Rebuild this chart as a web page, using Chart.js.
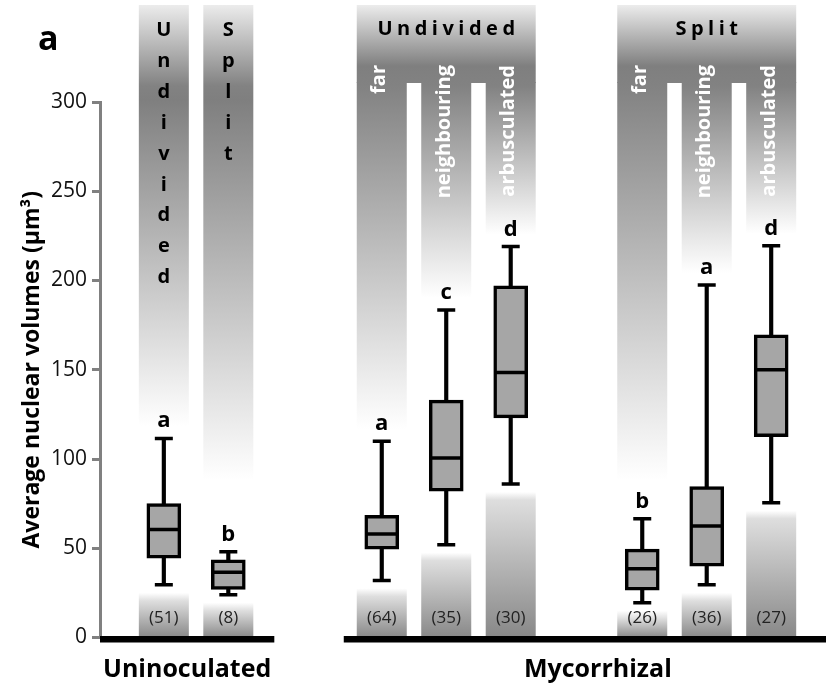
<!DOCTYPE html>
<html>
<head>
<meta charset="utf-8">
<script src="https://cdn.jsdelivr.net/npm/chart.js@4.4.1/dist/chart.umd.min.js"></script>
<style>
  html, body { margin: 0; padding: 0; background: #fff; }
  canvas { display: block; }
</style>
</head>
<body>
<canvas id="boxChart" width="826" height="691"></canvas>
<script>
(function () {
    "use strict";

    // values
    const categories = ['Undivided', 'Split', 'far', 'neighbouring', 'arbusculated', 'far', 'neighbouring', 'arbusculated'];
    const treatments = ['Uninoculated', 'Uninoculated', 'Mycorrhizal', 'Mycorrhizal', 'Mycorrhizal', 'Mycorrhizal', 'Mycorrhizal', 'Mycorrhizal'];
    const rootSystem = ['', '', 'Undivided', 'Undivided', 'Undivided', 'Split', 'Split', 'Split'];
    const whiskerLow = [29.5, 24, 32, 52, 86, 19.5, 29.5, 75.5];
    const quartile1 = [44.5, 27, 49.5, 82, 123, 26.5, 40, 112.5];
    const medians = [60.5, 36.5, 58, 100.5, 148.5, 38.5, 62.5, 150];
    const quartile3 = [75, 43.5, 68.5, 133, 197, 49.5, 84.5, 169.5];
    const whiskerHigh = [111.5, 48, 110, 183.5, 219, 66.5, 197.5, 219.5];
    const counts = [51, 8, 64, 35, 30, 26, 36, 27];
    const letters = ['a', 'b', 'a', 'c', 'd', 'b', 'a', 'd'];
    const yTitle = 'Average nuclear volumes (µm³)';

    // layout: box positions along the x axis, in box pitches
    const slots = [0, 1, 3.38, 4.38, 5.38, 7.42, 8.42, 9.42];

    const FONT = "'Open Sans', sans-serif";
    Chart.defaults.font.family = FONT;

    const COL_W = 50;
    const COL_TOP = 5;
    const GAP_TOP = 83;
    const LINE_W = 3.5;

    function yPx(chart, v) { return chart.scales.y.getPixelForValue(v); }
    function xPx(chart, i) { return chart.scales.x.getPixelForValue(slots[i]); }

    function topGradient(ctx, darkY, fadeEnd) {
        const g = ctx.createLinearGradient(0, COL_TOP, 0, fadeEnd);
        const span = fadeEnd - COL_TOP;
        g.addColorStop(0, '#ececec');
        g.addColorStop((darkY - COL_TOP) / span, '#7f7f7f');
        g.addColorStop(Math.min(0.99, (GAP_TOP + 3 - COL_TOP) / span), '#828282');
        g.addColorStop(1, '#ffffff');
        return g;
    }

    function spaced(ctx, text, cx, y, gap) {
        const widths = text.split('').map(function (ch) { return ctx.measureText(ch).width; });
        const total = widths.reduce(function (a, b) { return a + b; }, 0) + gap * (text.length - 1);
        let x = cx - total / 2;
        ctx.textAlign = 'left';
        text.split('').forEach(function (ch, k) {
            ctx.fillText(ch, x, y);
            x += widths[k] + gap;
        });
    }

    /* grey columns behind the boxes, plus all the annotation text */
    const backdrop = {
        id: 'backdrop',
        beforeDatasetsDraw(chart) {
            const ctx = chart.ctx;
            const y0 = yPx(chart, 0);
            ctx.save();
            categories.forEach(function (c, i) {
                const cx = xPx(chart, i);
                const left = cx - COL_W / 2;
                const myc = treatments[i] === 'Mycorrhizal';
                const fadeEnd = Math.min(yPx(chart, whiskerHigh[i]) - 12, 480);
                ctx.fillStyle = topGradient(ctx, myc ? 66 : 100, fadeEnd);
                if (myc) {
                    // header band shared by the three sub-columns
                    if (rootSystem[i] !== rootSystem[i - 1]) {
                        let last = i;
                        while (last + 1 < categories.length && rootSystem[last + 1] === rootSystem[i]) last++;
                        const right = xPx(chart, last) + COL_W / 2;
                        ctx.fillRect(left, COL_TOP, right - left, GAP_TOP - COL_TOP);
                    }
                    ctx.fillRect(left, GAP_TOP - 1, COL_W, fadeEnd - GAP_TOP + 1);
                } else {
                    ctx.fillRect(left, COL_TOP, COL_W, fadeEnd - COL_TOP);
                }
                const start = yPx(chart, whiskerLow[i]) + 8;
                const g2 = ctx.createLinearGradient(0, start, 0, y0);
                g2.addColorStop(0, '#ffffff');
                g2.addColorStop(Math.min(0.5, 8 / (y0 - start)), '#dedede');
                g2.addColorStop(1, '#888888');
                ctx.fillStyle = g2;
                ctx.fillRect(left, start, COL_W, y0 - start);
            });
            ctx.restore();
        },
        afterDatasetsDraw(chart) {
            const ctx = chart.ctx;
            const area = chart.chartArea;
            const y0 = yPx(chart, 0);
            ctx.save();

            categories.forEach(function (c, i) {
                const cx = xPx(chart, i);
                if (treatments[i] === 'Mycorrhizal') {
                    ctx.save();
                    ctx.translate(cx - 2, 65);
                    ctx.rotate(-Math.PI / 2);
                    ctx.font = 'bold 20px ' + FONT;
                    ctx.fillStyle = '#ffffff';
                    ctx.textAlign = 'right';
                    ctx.textBaseline = 'middle';
                    ctx.fillText(c, 0, 0);
                    ctx.restore();
                    if (rootSystem[i] !== rootSystem[i - 1]) {
                        const mid = (cx + xPx(chart, i + 2)) / 2;
                        ctx.font = 'bold 20px ' + FONT;
                        ctx.fillStyle = '#000';
                        ctx.textBaseline = 'alphabetic';
                        spaced(ctx, rootSystem[i], mid, 35, 4.5);
                    }
                } else {
                    ctx.font = 'bold 20px ' + FONT;
                    ctx.fillStyle = '#000';
                    ctx.textAlign = 'center';
                    ctx.textBaseline = 'alphabetic';
                    c.split('').forEach(function (ch, k) {
                        ctx.fillText(ch, cx, 36 + 30.9 * k);
                    });
                }

                // significance letters and n
                ctx.font = 'bold 22px ' + FONT;
                ctx.fillStyle = '#000';
                ctx.textAlign = 'center';
                ctx.textBaseline = 'alphabetic';
                ctx.fillText(letters[i], cx, yPx(chart, whiskerHigh[i]) - 11);

                ctx.font = '17px ' + FONT;
                ctx.fillStyle = '#222';
                ctx.textBaseline = 'middle';
                ctx.fillText('(' + counts[i] + ')', cx, y0 - 19);
            });

            // thick baselines under each treatment
            ctx.fillStyle = '#000';
            const seg1 = [area.left, xPx(chart, 1) + 46];
            const seg2 = [xPx(chart, 2) - 38, area.right];
            ctx.fillRect(seg1[0], y0 - 1.5, seg1[1] - seg1[0], 6.5);
            ctx.fillRect(seg2[0], y0 - 1.5, seg2[1] - seg2[0], 6.5);

            ctx.font = 'bold 25px ' + FONT;
            ctx.textAlign = 'center';
            ctx.textBaseline = 'alphabetic';
            ctx.fillText(treatments[0], (seg1[0] + seg1[1]) / 2, 677);
            ctx.fillText(treatments[2], (seg2[0] + seg2[1]) / 2 + 13, 677);

            ctx.font = 'bold 34px ' + FONT;
            ctx.textAlign = 'left';
            ctx.fillText('a', 38, 50);
            ctx.restore();
        }
    };

    const boxData = slots.map(function (x, i) { return { x: x, y: [quartile1[i], quartile3[i]] }; });
    const whiskerData = slots.map(function (x, i) { return { x: x, y: [whiskerLow[i], whiskerHigh[i]] }; });
    const capData = [];
    slots.forEach(function (x, i) {
        capData.push({ x: x, y: whiskerLow[i] });
        capData.push({ x: x, y: whiskerHigh[i] });
    });
    const medianData = slots.map(function (x, i) { return { x: x, y: medians[i] }; });

    var ctx = document.getElementById('boxChart').getContext('2d');
    var chart = new Chart(ctx, {
        type: 'bar',
        data: {
            datasets: [{
                label: 'Interquartile range',
                data: boxData,
                backgroundColor: '#a6a6a6',
                borderColor: '#000',
                borderWidth: LINE_W,
                borderSkipped: false,
                barThickness: 34,
                grouped: false,
                order: 1
            }, {
                label: 'Range',
                data: whiskerData,
                backgroundColor: '#000',
                borderWidth: 0,
                barThickness: LINE_W,
                grouped: false,
                order: 3
            }, {
                type: 'line',
                label: 'Whisker ends',
                data: capData,
                showLine: false,
                pointStyle: 'line',
                pointRadius: 9,
                pointHoverRadius: 9,
                pointBorderWidth: LINE_W,
                borderColor: '#000',
                pointBorderColor: '#000',
                order: 2
            }, {
                type: 'line',
                label: 'Median',
                data: medianData,
                showLine: false,
                pointStyle: 'line',
                pointRadius: 15.5,
                pointHoverRadius: 15.5,
                pointBorderWidth: LINE_W,
                borderColor: '#000',
                pointBorderColor: '#000',
                order: 0
            }]
        },
        options: {
            responsive: false,
            animation: false,
            devicePixelRatio: 1,
            layout: {
                autoPadding: false,
                padding: { top: 102, bottom: 53.5, left: 0, right: 0 }
            },
            plugins: {
                legend: { display: false },
                tooltip: { enabled: false }
            },
            scales: {
                x: {
                    type: 'linear',
                    min: -0.99,
                    max: 10.27,
                    offset: false,
                    display: false
                },
                y: {
                    min: 0,
                    max: 300,
                    afterFit: function (scale) { scale.width = 100; },
                    ticks: {
                        stepSize: 50,
                        color: '#111',
                        padding: 5,
                        font: { size: 21 }
                    },
                    grid: {
                        drawOnChartArea: false,
                        drawTicks: true,
                        tickLength: 8,
                        color: '#808080',
                        lineWidth: 3
                    },
                    border: { display: true, color: '#808080', width: 3 },
                    title: {
                        display: true,
                        text: yTitle,
                        color: '#000',
                        font: { size: 23, weight: 'bold' },
                        padding: { top: 19, bottom: 0 }
                    }
                }
            }
        },
        plugins: [backdrop]
    });
})();
</script>
</body>
</html>
